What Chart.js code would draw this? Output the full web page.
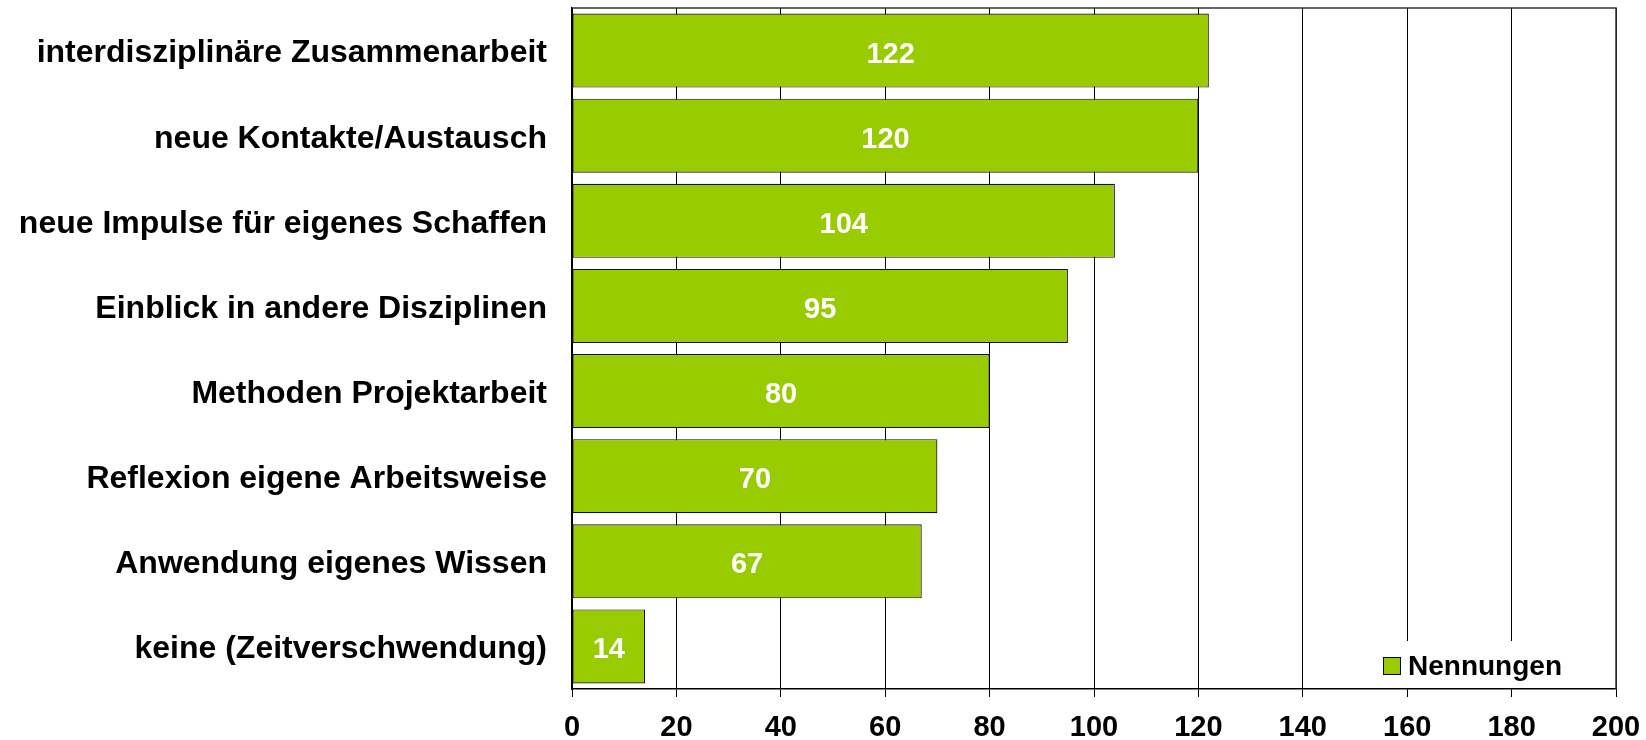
<!DOCTYPE html>
<html>
<head>
<meta charset="utf-8">
<script src="https://cdn.jsdelivr.net/npm/chart.js@4/dist/chart.umd.min.js"></script>
<style>
  html, body { margin: 0; padding: 0; background: #fff; }
  #wrap { width: 1646px; height: 740px; }
</style>
</head>
<body>
<div id="wrap"><canvas id="myChart" width="1646" height="740"></canvas></div>
<script>
// data
const categories = [
    'interdisziplinäre Zusammenarbeit',
    'neue Kontakte/Austausch',
    'neue Impulse für eigenes Schaffen',
    'Einblick in andere Disziplinen',
    'Methoden Projektarbeit',
    'Reflexion eigene Arbeitsweise',
    'Anwendung eigenes Wissen',
    'keine (Zeitverschwendung)'
];
const nennungen = [122, 120, 104, 95, 80, 70, 67, 14];
const seriesName = 'Nennungen';

const FONT = 'Liberation Sans, Arial, sans-serif';
const GREEN = '#99CC00';

// white value labels in the middle of each bar
const valueLabels = {
    id: 'valueLabels',
    afterDatasetsDraw(chart) {
        const ctx = chart.ctx;
        const meta = chart.getDatasetMeta(0);
        ctx.save();
        ctx.fillStyle = '#fff';
        ctx.font = 'bold 29px ' + FONT;
        ctx.textAlign = 'center';
        ctx.textBaseline = 'middle';
        meta.data.forEach((bar, i) => {
            const x = (bar.base + bar.x) / 2;
            ctx.fillText(String(nennungen[i]), x, bar.y + 4);
        });
        ctx.restore();
    }
};

// top/right border + legend box inside the plot, bottom right
const frameAndLegend = {
    id: 'frameAndLegend',
    afterDatasetsDraw(chart) {
        const { ctx, chartArea: a } = chart;
        ctx.save();
        ctx.strokeStyle = '#333';
        ctx.lineWidth = 1.5;
        ctx.beginPath();
        ctx.moveTo(a.left, a.top);
        ctx.lineTo(a.right, a.top);
        ctx.lineTo(a.right, a.bottom);
        ctx.stroke();

        // legend
        ctx.fillStyle = '#fff';
        ctx.fillRect(1310, 641, a.right - 1311, a.bottom - 642);
        ctx.fillStyle = GREEN;
        ctx.fillRect(1383, 657, 17, 17);
        ctx.strokeStyle = '#000';
        ctx.lineWidth = 1;
        ctx.strokeRect(1383.5, 657.5, 17, 17);
        ctx.fillStyle = '#000';
        ctx.font = 'bold 28px ' + FONT;
        ctx.textAlign = 'left';
        ctx.textBaseline = 'middle';
        ctx.fillText(chart.data.datasets[0].label, 1408, 667);
        ctx.restore();
    }
};

const config = {
    type: 'bar',
    data: {
        labels: categories,
        datasets: [{
            label: seriesName,
            data: nennungen,
            backgroundColor: GREEN,
            borderColor: '#111',
            borderWidth: 1.2,
            borderSkipped: false,
            categoryPercentage: 0.87,
            barPercentage: 1.0
        }]
    },
    options: {
        indexAxis: 'y',
        responsive: false,
        animation: false,
        layout: { padding: { top: 8, right: 30, left: 0, bottom: 0 } },
        plugins: {
            legend: { display: false },
            tooltip: { enabled: false }
        },
        scales: {
            x: {
                min: 0,
                max: 200,
                ticks: {
                    stepSize: 20,
                    color: '#000',
                    font: { family: FONT, size: 29, weight: 'bold' },
                    padding: 14,
                    maxRotation: 0
                },
                grid: {
                    color: '#000',
                    lineWidth: 1,
                    tickLength: 8,
                    drawTicks: true
                },
                border: { color: '#000', width: 1.5 },
                afterFit(scale) {
                    scale.height = 51;
                    scale.paddingLeft = 0;
                    scale.paddingRight = 0;
                }
            },
            y: {
                ticks: {
                    color: '#000',
                    font: { family: FONT, size: 32, weight: 'bold' },
                    padding: 25,
                    labelOffset: 3
                },
                grid: { display: false, drawTicks: false },
                border: { color: '#000', width: 1.5 },
                afterFit(scale) {
                    scale.width = 572;
                    scale.paddingTop = 0;
                    scale.paddingBottom = 0;
                }
            }
        }
    },
    plugins: [valueLabels, frameAndLegend]
};

const myChart = new Chart(document.getElementById('myChart'), config);
</script>
</body>
</html>
